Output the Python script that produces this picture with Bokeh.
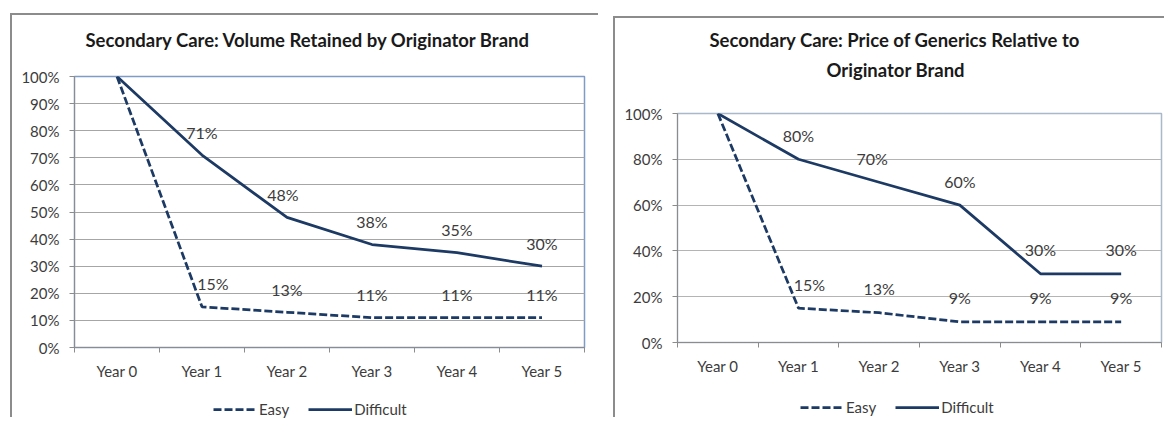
from bokeh.plotting import figure
from bokeh.models import (ColumnDataSource, FixedTicker, Range1d, Legend, LegendItem,
                          Title, PrintfTickFormatter)
from bokeh.embed import file_html
from bokeh.resources import INLINE
from bokeh.core.properties import value

# ---------------- data ----------------
years = ["Year 0", "Year 1", "Year 2", "Year 3", "Year 4", "Year 5"]
series_names = ["Easy", "Difficult"]

vol_easy = [100, 15, 13, 11, 11, 11]
vol_difficult = [100, 71, 48, 38, 35, 30]

price_easy = [100, 15, 13, 9, 9, 9]
price_difficult = [100, 80, 70, 60, 30, 30]

vol_title = ["Secondary Care: Volume Retained by Originator Brand"]
price_title = ["Secondary Care: Price of Generics Relative to", "Originator Brand"]

vol_yticks = [0, 10, 20, 30, 40, 50, 60, 70, 80, 90, 100]
price_yticks = [0, 20, 40, 60, 80, 100]

# ---------------- style ----------------
FONT = "Lato"
NAVY = "#1c3a64"
TXT = "#3c3c3c"
BOX = "2px solid #8c8c8c"
EASY_STYLE = dict(line_color=NAVY, line_width=2.75, line_dash="8 3")
DIFF_STYLE = dict(line_color=NAVY, line_width=2.75)


def make_chart(easy, difficult, yticks, title_lines, title_offsets, title_gap, title_standoff,
               width, height, mb, pos, outline_color, grid_color, label_dy,
               easy_dx, diff_dx):
    xs = list(range(len(years)))
    p = figure(width=width, height=height, output_backend="svg", toolbar_location=None,
               x_range=Range1d(-0.5, len(years) - 0.5), y_range=Range1d(0, 100),
               min_border_left=mb[0], min_border_right=mb[1],
               min_border_top=mb[2], min_border_bottom=mb[3],
               background_fill_color="white", border_fill_color="white")
    p.title_location = None
    p.styles = {"position": "absolute", "left": f"{pos[0]}px", "top": f"{pos[1]}px",
                "border-top": BOX, "border-left": BOX}

    p.outline_line_color = outline_color
    p.outline_line_width = 1.5

    # x axis: category labels at centres, tick marks on category boundaries
    p.xaxis.ticker = FixedTicker(ticks=xs, minor_ticks=[i - 0.5 for i in range(len(years) + 1)])
    p.xaxis.major_label_overrides = {i: y for i, y in enumerate(years)}
    p.xaxis.major_tick_out = 0
    p.xaxis.major_tick_in = 0
    p.xaxis.minor_tick_out = 5
    p.xaxis.minor_tick_in = 0
    p.xaxis.minor_tick_line_color = "#8c8c8c"
    p.xaxis.axis_line_color = "#8c8c8c"
    p.xaxis.major_label_standoff = 9
    p.xaxis.major_label_text_font_size = "15px"
    # y axis
    p.yaxis.ticker = FixedTicker(ticks=yticks)
    p.yaxis.formatter = PrintfTickFormatter(format="%d%%")
    p.yaxis.major_tick_out = 5
    p.yaxis.major_tick_in = 0
    p.yaxis.minor_tick_line_color = None
    p.yaxis.major_tick_line_color = "#8c8c8c"
    p.yaxis.axis_line_color = "#8c8c8c"
    p.yaxis.major_label_standoff = 10
    p.yaxis.major_label_text_font_size = "15px"
    for ax in (p.xaxis, p.yaxis):
        ax.major_label_text_font = FONT
        ax.major_label_text_color = TXT

    p.xgrid.visible = False
    p.ygrid.ticker = FixedTicker(ticks=yticks)
    p.ygrid.grid_line_color = grid_color
    p.ygrid.grid_line_width = 1

    src = ColumnDataSource(dict(x=xs, easy=easy, difficult=difficult))
    p.line("x", "easy", source=src, **EASY_STYLE)
    p.line("x", "difficult", source=src, **DIFF_STYLE)

    # data labels (Year 1 onwards), nudged sideways where the original was
    for vals, dx in ((easy, easy_dx), (difficult, diff_dx)):
        lsrc = ColumnDataSource(dict(x=xs[1:], y=vals[1:], t=[f"{v}%" for v in vals[1:]], dx=dx))
        p.text("x", "y", text="t", source=lsrc, text_align="center", text_baseline="middle",
               x_offset="dx", y_offset=label_dy, text_font=value(FONT),
               text_font_size="16px", text_color=TXT)

    # title: spacer next to the frame, then the title lines (last line closest to frame)
    p.add_layout(Title(text=" ", text_font_size="1px", standoff=title_gap), "above")
    for line, off in reversed(list(zip(title_lines, title_offsets))):
        p.add_layout(Title(text=line, align="left", offset=off, standoff=title_standoff,
                           text_font=FONT, text_font_style="bold", text_font_size="18.5px",
                           text_color="#1a1a1a"), "above")
    return p


def make_legend(pos, width=210, height=20):
    lg = figure(width=width, height=height, output_backend="svg", toolbar_location=None,
                x_axis_type=None, y_axis_type=None, x_range=Range1d(0, 1), y_range=Range1d(0, 1),
                min_border=0, min_border_left=0, min_border_right=0,
                min_border_top=0, min_border_bottom=0,
                background_fill_alpha=0, border_fill_alpha=0)
    lg.title_location = None
    lg.outline_line_color = None
    lg.grid.visible = False
    lg.styles = {"position": "absolute", "left": f"{pos[0]}px", "top": f"{pos[1]}px"}
    proxy = ColumnDataSource(dict(x=[float("nan")], y=[float("nan")]))
    r_e = lg.line("x", "y", source=proxy, **EASY_STYLE)
    r_d = lg.line("x", "y", source=proxy, **DIFF_STYLE)
    legend = Legend(items=[LegendItem(label=series_names[0], renderers=[r_e]),
                           LegendItem(label=series_names[1], renderers=[r_d])],
                    orientation="horizontal", location="top_left",
                    glyph_width=44, glyph_height=20, label_standoff=2, spacing=19,
                    padding=0, margin=0, border_line_color=None, background_fill_alpha=0,
                    label_text_font=FONT, label_text_font_size="15px", label_text_color=TXT,
                    label_height=20)
    lg.add_layout(legend)
    return lg


p1 = make_chart(vol_easy, vol_difficult, vol_yticks, vol_title, [11],
                title_gap=21, title_standoff=4,
                width=588, height=404, mb=(62, 16, 61, 72), pos=(10, 13),
                outline_color="#7f9cc6", grid_color="#a6a6a6", label_dy=-23,
                easy_dx=[11, 0, 0, 0, 0], diff_dx=[0, -4, 0, 0, 0])

p2 = make_chart(price_easy, price_difficult, price_yticks, price_title, [32, 149],
                title_gap=27, title_standoff=6,
                width=551, height=401, mb=(62, 5, 95, 77), pos=(613, 16),
                outline_color="#a9b8cb", grid_color="#b4b4b4", label_dy=-24,
                easy_dx=[11, 0, 0, 0, 0], diff_dx=[0, -7, 0, 0, 0])

l1 = make_legend((213, 399))
l2 = make_legend((800, 397))

open("out.html", "w").write(file_html([p1, p2, l1, l2], INLINE))
